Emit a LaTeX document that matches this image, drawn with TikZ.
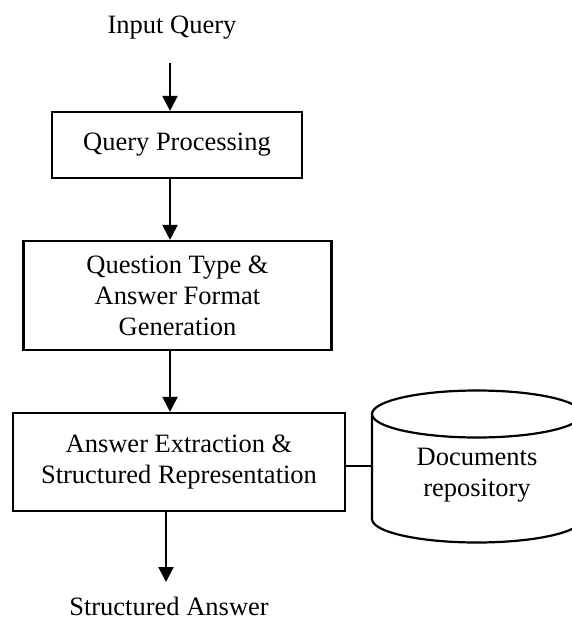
\documentclass[tikz,border=0pt]{standalone}
\usepackage{fontspec}
\setmainfont{Liberation Serif}
\usetikzlibrary{arrows.meta}
\begin{document}
\begin{tikzpicture}[x=0.5pt,y=-0.5pt,
  txt/.style={inner sep=0pt, font=\fontsize{13.25}{15.5}\selectfont, align=center},
  box/.style={txt, draw, line width=1.1pt},
  edge/.style={line width=1.1pt},
  flow/.style={edge, -{Triangle[width=7.5pt,length=7.5pt]}}]
\useasboundingbox (0,0) rectangle (571,619);

% process boxes
\node[box, minimum width=125pt, minimum height=33pt]   (qp) at (177,145)   {Query Processing};
\node[box, minimum width=154pt, minimum height=54.5pt] (qt) at (177.5,295.5) {Question Type \&\\Answer Format\\Generation};
\node[box, minimum width=166pt, minimum height=49pt]   (ae) at (179,462)   {Answer Extraction \&\\Structured Representation};

% input and output labels
\node[txt, anchor=base] (in)  at (172,34)  {Input Query};
\node[txt, anchor=base] (out) at (169,615.5) {Structured Answer};

% document store drawn as a cylinder
\node[minimum width=105pt, minimum height=76pt, inner sep=0pt] (db) at (477,466) {};
\draw[edge] (372,414) -- (372,519) arc[start angle=180, end angle=360, x radius=52.5pt, y radius=11.75pt] -- (582,414);
\draw[edge] (477,414) ellipse[x radius=52.5pt, y radius=11.75pt];
\node[txt] (repo) at (477,475) {Documents\\repository};

% flow arrows
\coordinate (s1) at (170,63);
\coordinate (e4) at (166,582);
\draw[flow] (s1) -- (s1 |- qp.north);
\draw[flow] (qp.south -| s1) -- (qt.north -| s1);
\draw[flow] (qt.south -| s1) -- (ae.north -| s1);
\draw[flow] (ae.south -| e4) -- (e4);
\draw[edge] (db.west -| ae.east) -- (db.west);
\end{tikzpicture}
\end{document}
